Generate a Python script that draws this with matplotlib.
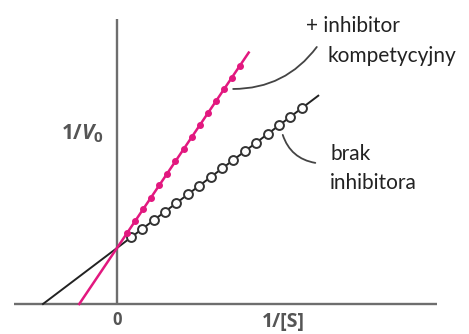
import matplotlib
matplotlib.use("Agg")
import matplotlib.pyplot as plt

# ---- data (1/[S] vs 1/V0) ----
no_inh_x = [0.19, 0.34, 0.50, 0.65, 0.80, 0.96, 1.11, 1.27, 1.42, 1.57, 1.73, 1.88, 2.04, 2.19, 2.34, 2.50]
no_inh_y = [1.19, 1.34, 1.50, 1.65, 1.80, 1.96, 2.11, 2.27, 2.42, 2.57, 2.73, 2.88, 3.04, 3.19, 3.34, 3.50]
inh_x = [0.14, 0.25, 0.35, 0.46, 0.57, 0.68, 0.79, 0.90, 1.01, 1.12, 1.23, 1.34, 1.45, 1.55, 1.66]
inh_y = [1.27, 1.49, 1.69, 1.90, 2.12, 2.33, 2.55, 2.76, 2.98, 3.20, 3.41, 3.63, 3.84, 4.04, 4.25]
no_inh_line_x = [-1.00, 2.72]
no_inh_line_y = [0.00, 3.72]
inh_line_x = [-0.51, 1.78]
inh_line_y = [0.00, 4.49]

xlabel = "1/[S]"
zero_label = "0"

PINK = "#E2187F"
DARK = "#222222"
AXC = "#6E6E6E"
LBL = "#555555"

fig = plt.figure(figsize=(4.69, 3.34), dpi=100)
ax = fig.add_axes([0, 0, 1, 1])
ax.set_xlim(-1.581, 4.757)
ax.set_ylim(-0.536, 5.429)
ax.axis("off")

# axes lines
ax.plot([-1.39, 4.32], [0, 0], color=AXC, lw=1.7, solid_capstyle="butt", zorder=1)
ax.plot([0, 0], [0, 5.09], color=AXC, lw=1.7, solid_capstyle="butt", zorder=1)

# lines
ax.plot(no_inh_line_x, no_inh_line_y, color=DARK, lw=1.4, zorder=2)
ax.plot(inh_line_x, inh_line_y, color=PINK, lw=1.8, zorder=2)

# markers
ax.plot(no_inh_x, no_inh_y, "o", ms=6.4, mfc="white", mec="#333333", mew=1.4, zorder=3)
ax.plot(inh_x, inh_y, "o", ms=4.0, mfc=PINK, mec=PINK, zorder=3)

fam = ["Lato", "DejaVu Sans"]
# annotation texts
ax.text(2.56, 4.97, "+ inhibitor", fontsize=15, family=fam, color=DARK, ha="left", va="center")
ax.text(2.84, 4.42, "kompetycyjny", fontsize=15, family=fam, color=DARK, ha="left", va="center")
ax.text(2.88, 2.68, "brak", fontsize=15, family=fam, color=DARK, ha="left", va="center")
ax.text(2.88, 2.16, "inhibitora", fontsize=15, family=fam, color=DARK, ha="left", va="center")

# leader curves
ax.annotate("", xy=(2.70, 4.59), xytext=(1.57, 3.84),
            arrowprops=dict(arrowstyle="-", color="#444444", lw=1.3,
                            connectionstyle="arc3,rad=0.25", shrinkA=0, shrinkB=0))
ax.annotate("", xy=(2.68, 2.52), xytext=(2.24, 3.02),
            arrowprops=dict(arrowstyle="-", color="#444444", lw=1.3,
                            connectionstyle="arc3,rad=0.3", shrinkA=0, shrinkB=0))

# axis labels
lfam = ["Open Sans", "DejaVu Sans"]
# y label: "1/" + italic V + small "o"
ax.text(-0.47, 3.04, "1/", fontsize=15, family=lfam, color=LBL,
        ha="right", va="center", fontweight="bold")
ax.text(-0.48, 3.04, "V", fontsize=15, family=lfam, color=LBL,
        ha="left", va="center", fontweight="bold", style="italic")
ax.text(-0.32, 2.97, "0", fontsize=11, family=lfam, color=LBL,
        ha="left", va="center", fontweight="bold")
ax.text(0.0, -0.29, zero_label, fontsize=12, family=lfam, color=LBL,
        ha="center", va="center", fontweight="bold")
ax.text(1.96, -0.32, xlabel, fontsize=14, family=lfam, color=LBL,
        ha="left", va="center", fontweight="bold")

fig.savefig("out.png", dpi=100)
